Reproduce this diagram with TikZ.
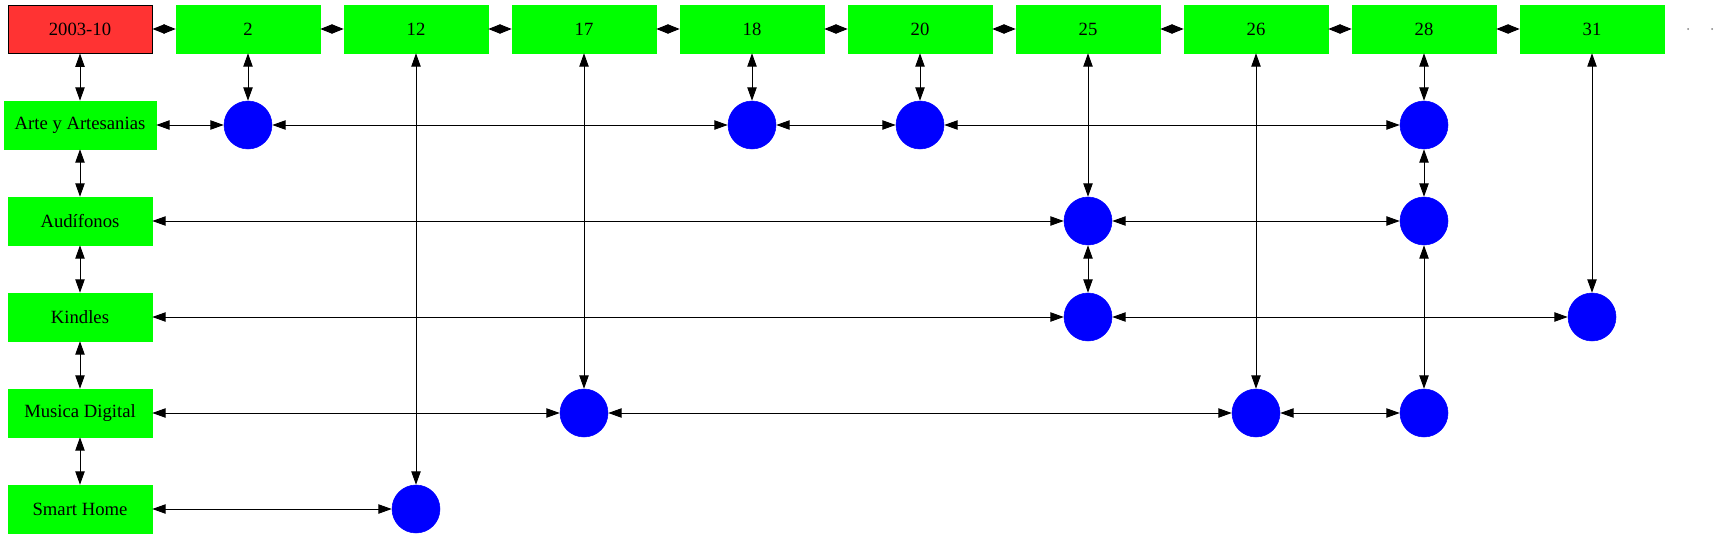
\documentclass[tikz,border=0pt]{standalone}
\usepackage{fontspec}
\setmainfont{Liberation Serif}
\usetikzlibrary{arrows.meta}
\definecolor{gvgreen}{HTML}{00FF00}
\definecolor{gvred}{HTML}{FF3333}
\definecolor{gvblue}{HTML}{0000FF}
\tikzset{
  box/.style={fill=gvgreen, draw=gvgreen, minimum width=108pt, minimum height=36pt, inner xsep=8pt, font=\fontsize{14pt}{16pt}\selectfont},
  datebox/.style={box, fill=gvred, draw=black, line width=0.75pt},
  dot/.style={circle, fill=gvblue, draw=gvblue, minimum size=36pt, inner sep=0pt},
  link/.style={line width=0.75pt, {Triangle[length=10pt,width=7pt]}-{Triangle[length=10pt,width=7pt]}},
  short/.style={line width=0.75pt, {Triangle[length=9pt,width=7pt]}-{Triangle[length=9pt,width=7pt]}},
  tiny/.style={circle, fill=gray, inner sep=0pt, minimum size=1.5pt}
}
\begin{document}
\begin{tikzpicture}[x=0.75pt, y=-0.75pt]
\useasboundingbox (0,0) rectangle (1717,539);
% top row
\node[datebox] (d) at (80,29) {2003-10};
\node[box] (t2) at (248,29) {2};
\node[box] (t12) at (416,29) {12};
\node[box] (t17) at (584,29) {17};
\node[box] (t18) at (752,29) {18};
\node[box] (t20) at (920,29) {20};
\node[box] (t25) at (1088,29) {25};
\node[box] (t26) at (1256,29) {26};
\node[box] (t28) at (1424,29) {28};
\node[box] (t31) at (1592,29) {31};
\node[tiny] (e1) at (1688,29) {};
\node[tiny] (e2) at (1712,29) {};
% left column
\node[box] (arte) at (80,125) {Arte y Artesanias};
\node[box] (aud) at (80,221) {Audífonos};
\node[box] (kin) at (80,317) {Kindles};
\node[box] (mus) at (80,413) {Musica Digital};
\node[box] (sm) at (80,509) {Smart Home};
% dots
\node[dot] (a2) at (248,125) {};
\node[dot] (a18) at (752,125) {};
\node[dot] (a20) at (920,125) {};
\node[dot] (a28) at (1424,125) {};
\node[dot] (u25) at (1088,221) {};
\node[dot] (u28) at (1424,221) {};
\node[dot] (k25) at (1088,317) {};
\node[dot] (k31) at (1592,317) {};
\node[dot] (m17) at (584,413) {};
\node[dot] (m26) at (1256,413) {};
\node[dot] (m28) at (1424,413) {};
\node[dot] (s12) at (416,509) {};
% top row links
\draw[short] (d) -- (t2);
\draw[short] (t2) -- (t12);
\draw[short] (t12) -- (t17);
\draw[short] (t17) -- (t18);
\draw[short] (t18) -- (t20);
\draw[short] (t20) -- (t25);
\draw[short] (t25) -- (t26);
\draw[short] (t26) -- (t28);
\draw[short] (t28) -- (t31);
% left column links
\draw[link] (d) -- (arte);
\draw[link] (arte) -- (aud);
\draw[link] (aud) -- (kin);
\draw[link] (kin) -- (mus);
\draw[link] (mus) -- (sm);
% row links
\draw[link] (arte) -- (a2);
\draw[link] (a2) -- (a18);
\draw[link] (a18) -- (a20);
\draw[link] (a20) -- (a28);
\draw[link] (aud) -- (u25);
\draw[link] (u25) -- (u28);
\draw[link] (kin) -- (k25);
\draw[link] (k25) -- (k31);
\draw[link] (mus) -- (m17);
\draw[link] (m17) -- (m26);
\draw[link] (m26) -- (m28);
\draw[link] (sm) -- (s12);
% column links
\draw[link] (t2) -- (a2);
\draw[link] (t12) -- (s12);
\draw[link] (t17) -- (m17);
\draw[link] (t18) -- (a18);
\draw[link] (t20) -- (a20);
\draw[link] (t25) -- (u25);
\draw[link] (u25) -- (k25);
\draw[link] (t26) -- (m26);
\draw[link] (t28) -- (a28);
\draw[link] (a28) -- (u28);
\draw[link] (u28) -- (m28);
\draw[link] (t31) -- (k31);
\end{tikzpicture}
\end{document}
